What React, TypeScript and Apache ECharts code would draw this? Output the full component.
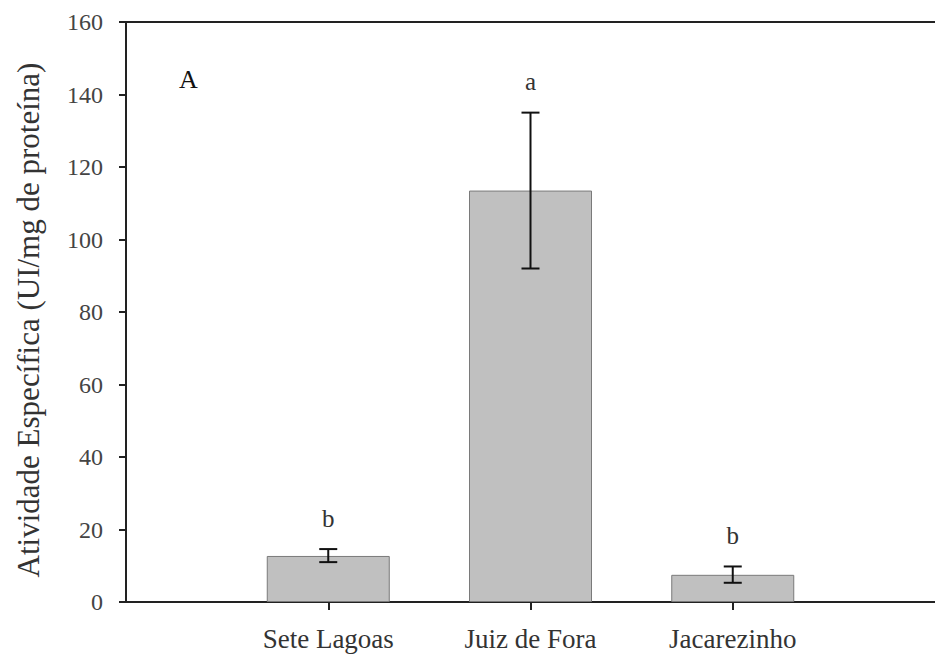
import React, { useEffect, useRef } from "react";
import * as echarts from "echarts";

const categories = ["Sete Lagoas", "Juiz de Fora", "Jacarezinho"];
const positions = [1, 2, 3];
const means = [12.7, 113.5, 7.5];
const errLow = [11.0, 92.0, 5.3];
const errHigh = [14.6, 135.0, 9.8];
const letters = ["b", "a", "b"];
const yTicks = [0, 20, 40, 60, 80, 100, 120, 140, 160];
const panelLabel = "A";
const yTitle = "Atividade Específica (UI/mg de proteína)";

const FONT = "Liberation Serif";

export default function App() {
  const ref = useRef<HTMLDivElement>(null);
  useEffect(() => {
    document.body.style.margin = "0";
    document.body.style.overflow = "hidden";
    document.documentElement.style.overflow = "hidden";
    const chart = echarts.init(ref.current!, null, { renderer: "svg" });
    const option: any = {
      animation: false,
      backgroundColor: "#ffffff",
      textStyle: { fontFamily: FONT },
      grid: { left: 126, right: 0, top: 22, bottom: 57, outerBoundsMode: "none", containLabel: false },
      xAxis: [
        {
          type: "value",
          min: 0,
          max: 4,
          interval: 1,
          splitLine: { show: false },
          axisLine: { show: true, onZero: false, lineStyle: { color: "#222", width: 2 } },
          axisTick: {
            show: true,
            length: 8,
            customValues: positions,
            lineStyle: { color: "#222", width: 2 },
          },
          axisLabel: {
            show: true,
            customValues: positions,
            margin: 23,
            fontFamily: FONT,
            fontSize: 27,
            color: "#333",
            formatter: (v: number) => categories[positions.indexOf(v)] ?? "",
          },
        },
        {
          type: "value",
          position: "top",
          min: 0,
          max: 4,
          splitLine: { show: false },
          axisLine: { show: true, onZero: false, lineStyle: { color: "#222", width: 2 } },
          axisTick: { show: false },
          axisLabel: { show: false },
        },
      ],
      yAxis: {
        type: "value",
        min: 0,
        max: 160,
        interval: 20,
        splitLine: { show: false },
        axisLine: { show: true, lineStyle: { color: "#222", width: 2 } },
        axisTick: { show: true, length: 7, lineStyle: { color: "#222", width: 2 } },
        axisLabel: {
          margin: 23,
          fontFamily: FONT,
          fontSize: 24,
          color: "#444",
          formatter: (v: number) => (yTicks.includes(v) ? String(v) : ""),
        },
      },
      graphic: [
        {
          type: "text",
          left: 179,
          top: 66,
          style: { text: panelLabel, font: `26px ${FONT}`, fill: "#111" },
        },
        {
          type: "text",
          x: 28,
          y: 320,
          rotation: Math.PI / 2,
          style: {
            text: yTitle,
            font: `31px ${FONT}`,
            fill: "#333",
            textAlign: "center",
            textVerticalAlign: "middle",
          },
        },
      ],
      series: [
        {
          type: "bar",
          data: positions.map((p, i) => [p, means[i]]),
          barWidth: 123,
          itemStyle: { color: "#c0c0c0", borderColor: "#7a7a7a", borderWidth: 1 },
        },
        {
          type: "custom",
          data: positions.map((p, i) => [p, errLow[i], errHigh[i], i]),
          renderItem: (params: any, api: any) => {
            const x = api.value(0);
            const lo = api.coord([x, api.value(1)]);
            const hi = api.coord([x, api.value(2)]);
            const idx = api.value(3);
            const cap = 9;
            const ls = { stroke: "#111", lineWidth: 2 };
            return {
              type: "group",
              children: [
                { type: "line", shape: { x1: hi[0], y1: hi[1], x2: lo[0], y2: lo[1] }, style: ls },
                { type: "line", shape: { x1: hi[0] - cap, y1: hi[1], x2: hi[0] + cap, y2: hi[1] }, style: ls },
                { type: "line", shape: { x1: lo[0] - cap, y1: lo[1], x2: lo[0] + cap, y2: lo[1] }, style: ls },
                {
                  type: "text",
                  x: hi[0],
                  y: hi[1] - 31,
                  style: {
                    text: letters[idx],
                    font: `25px ${FONT}`,
                    fill: "#333",
                    textAlign: "center",
                    textVerticalAlign: "middle",
                  },
                },
              ],
            };
          },
          z: 5,
        },
      ],
    };
    chart.setOption(option);
    return () => chart.dispose();
  }, []);
  return <div ref={ref} style={{ width: 935, height: 659 }} />;
}
